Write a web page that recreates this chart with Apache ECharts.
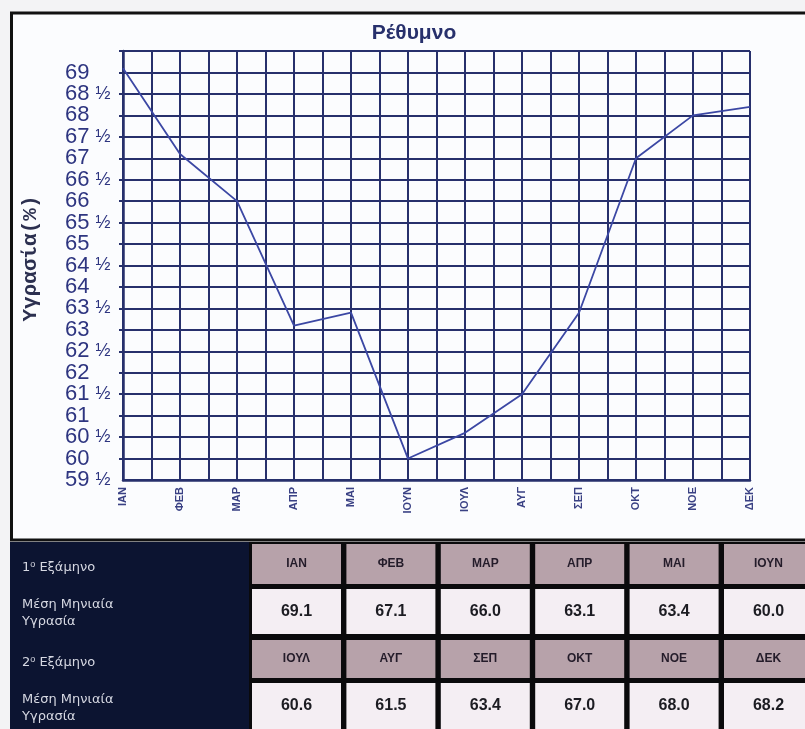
<!DOCTYPE html>
<html>
<head>
<meta charset="utf-8">
<style>
  html, body { margin: 0; padding: 0; background: #f3f3f5; }
  #chart { width: 805px; height: 729px; }
</style>
<script src="https://cdn.jsdelivr.net/npm/echarts@6/dist/echarts.min.js"></script>
</head>
<body>
<div id="chart"></div>
<script>
// Μέση μηνιαία υγρασία (%) – Ρέθυμνο
const months = ['ΙΑΝ', 'ΦΕΒ', 'ΜΑΡ', 'ΑΠΡ', 'ΜΑΙ', 'ΙΟΥΝ', 'ΙΟΥΛ', 'ΑΥΓ', 'ΣΕΠ', 'ΟΚΤ', 'ΝΟΕ', 'ΔΕΚ'];
const humidity = [69.1, 67.1, 66.0, 63.1, 63.4, 60.0, 60.6, 61.5, 63.4, 67.0, 68.0, 68.2];
const semesterLabels = ['1{s|ο} Εξάμηνο', '2{s|ο} Εξάμηνο'];
const rowLabel = 'Μέση Μηνιαία\nΥγρασία';
const chartTitle = 'Ρέθυμνο';
const yAxisTitle = 'Υγρασία(%)';
const Y_MIN = 59.5, Y_MAX = 69.5, Y_STEP = 0.5;

const NAVY = '#27306c';
const SANS = '"Liberation Sans", Arial, sans-serif';
const chart = echarts.init(document.getElementById('chart'));

// y tick label: whole number plus a "½" for half steps
function yLabel(v) {
  if (v >= Y_MAX) return '';
  const whole = Math.floor(v + 1e-9);
  return Math.abs(v - whole) > 0.25 ? whole + ' {h|½}' : String(whole);
}

const yLabelStyle = {
  align: 'left', margin: 58, color: '#2e3580', hideOverlap: false,
  fontFamily: SANS, fontSize: 22,
  rich: { h: { fontSize: 18, color: '#2e3580', fontFamily: SANS } }
};

const graphics = [];
// white chart panel with its dark frame
graphics.push({
  type: 'rect', z: -10,
  shape: { x: 11.5, y: 13, width: 800, height: 527 },
  style: { fill: '#fbfcfe', stroke: '#111111', lineWidth: 3 }
});
graphics.push({
  type: 'text', x: 414, y: 33,
  style: { text: chartTitle, fill: NAVY, font: 'bold 21px ' + SANS,
           align: 'center', verticalAlign: 'middle' }
});
// table: dark panel with row headings + black backing for the cell grid
graphics.push({ type: 'rect', shape: { x: 10, y: 542, width: 795, height: 187 }, style: { fill: '#0a0a0c' } });
graphics.push({ type: 'rect', shape: { x: 10, y: 542, width: 239, height: 187 }, style: { fill: '#0c1431' } });

const rowTops = [544, 589, 640, 683];
const rowHeights = [40, 45, 38, 46];
const colX0 = 252, colStep = 94.4, colW = 89;
const textFont = '13px "DejaVu Sans", sans-serif';
const panelText = '#d6d8e2';
[0, 1].forEach(function (half) {
  const hy = rowTops[half * 2], vy = rowTops[half * 2 + 1];
  graphics.push({
    type: 'text', x: 22, y: hy + rowHeights[half * 2] / 2 + 4,
    style: { text: semesterLabels[half], fill: panelText, font: textFont, verticalAlign: 'middle',
             rich: { s: { fontSize: 9, fill: panelText, verticalAlign: 'top', padding: [0, 0, 6, 0] } } }
  });
  graphics.push({
    type: 'text', x: 22, y: vy + rowHeights[half * 2 + 1] / 2 + 2,
    style: { text: rowLabel, fill: panelText, font: textFont, verticalAlign: 'middle', lineHeight: 17 }
  });
  for (let c = 0; c < 6; c++) {
    const i = half * 6 + c;
    const x = colX0 + c * colStep;
    graphics.push({ type: 'rect', shape: { x: x, y: hy, width: colW, height: rowHeights[half * 2] },
                    style: { fill: '#b7a2aa' } });
    graphics.push({ type: 'text', x: x + colW / 2, y: hy + rowHeights[half * 2] / 2,
                    style: { text: months[i], fill: '#241c2a', font: 'bold 12px ' + SANS,
                             align: 'center', verticalAlign: 'middle' } });
    graphics.push({ type: 'rect', shape: { x: x, y: vy, width: colW, height: rowHeights[half * 2 + 1] },
                    style: { fill: '#f4eef3' } });
    graphics.push({ type: 'text', x: x + colW / 2, y: vy + rowHeights[half * 2 + 1] / 2,
                    style: { text: humidity[i].toFixed(1), fill: '#1c1c22', font: 'bold 16px ' + SANS,
                             align: 'center', verticalAlign: 'middle' } });
  }
});

chart.setOption({
  animation: false,
  backgroundColor: '#f3f3f5',
  graphic: graphics,
  grid: { left: 123, top: 51, right: 55, bottom: 249, containLabel: false },
  xAxis: [
    {
      type: 'category', data: months, boundaryGap: false,
      axisLine: { lineStyle: { color: NAVY, width: 2.5 } },
      axisTick: { show: false },
      splitLine: { show: false },
      axisLabel: { rotate: 90, margin: 7, color: '#3a4184', interval: 0,
                   fontFamily: SANS, fontSize: 11, fontWeight: 'bold' }
    },
    {
      // half-month grid columns
      type: 'value', min: 0, max: 11, interval: 0.5, position: 'bottom',
      axisLine: { show: false }, axisTick: { show: false }, axisLabel: { show: false },
      splitLine: { show: true, lineStyle: { color: NAVY, width: 2 } }
    }
  ],
  yAxis: [
    {
      type: 'value', min: Y_MIN, max: Y_MAX, interval: Y_STEP,
      name: yAxisTitle, nameLocation: 'middle', nameGap: 82, nameRotate: 90,
      nameTextStyle: { color: '#2c3050', fontFamily: '"Liberation Mono", monospace', fontWeight: 'bold',
                       fontSize: 21, padding: [0, 0, 0, 14] },
      axisLine: { show: true, lineStyle: { color: NAVY, width: 2.5 } },
      axisTick: { show: true, length: 4, lineStyle: { color: NAVY, width: 2 } },
      splitLine: { show: true, lineStyle: { color: NAVY, width: 2 } },
      axisLabel: Object.assign({ formatter: yLabel, showMinLabel: false }, yLabelStyle)
    },
    {
      // carries only the lowest tick label (59 ½)
      type: 'value', min: Y_MIN, max: Y_MAX, interval: Y_STEP, position: 'left',
      axisLine: { show: false }, axisTick: { show: false }, splitLine: { show: false },
      axisLabel: Object.assign({
        formatter: function (v) { return v <= Y_MIN ? yLabel(v) : ''; },
        showMinLabel: true
      }, yLabelStyle)
    }
  ],
  series: [{
    type: 'line', data: humidity, xAxisIndex: 0, yAxisIndex: 0,
    symbol: 'none', z: 5,
    lineStyle: { color: '#3b47a4', width: 1.8 }
  }]
});
</script>
</body>
</html>
